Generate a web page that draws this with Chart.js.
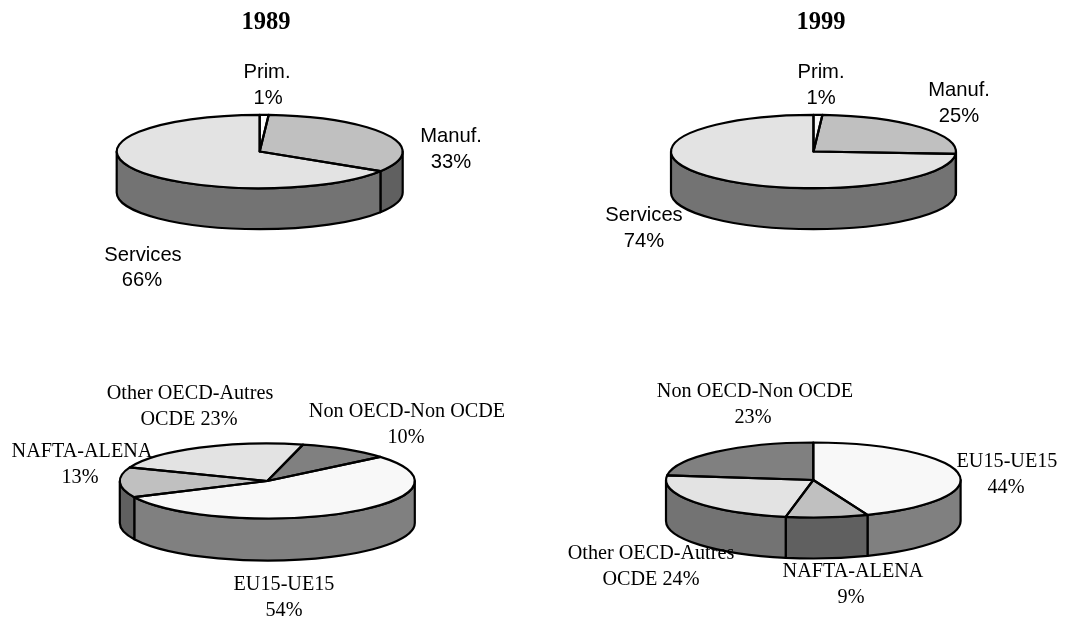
<!DOCTYPE html>
<html><head><meta charset="utf-8">
<script src="https://cdn.jsdelivr.net/npm/chart.js@4/dist/chart.umd.min.js"></script>
<style>html,body{margin:0;padding:0;background:#fff;overflow:hidden}
#wrap{position:relative;width:1065px;height:619px}
canvas{position:absolute;left:0;top:0}</style></head>
<body><div id="wrap"></div>
<script>
const sectorCategories = ["Prim.", "Manuf.", "Services"];
const regionCategoriesA = ["EU15-UE15", "NAFTA-ALENA", "Other OECD-Autres OCDE", "Non OECD-Non OCDE"];
const values1989Sector = [1, 33, 66];
const values1999Sector = [1, 25, 74];
const values1989Region = [54, 13, 23, 10];
const values1999Region = [44, 9, 24, 23];
const titles = ["1989", "1999"];

const ARIAL = '"Liberation Sans", Arial, sans-serif';
const TIMES = '"Liberation Serif", "Times New Roman", serif';

const pies = [
  {labels: sectorCategories, values: values1989Sector, rotation: 0, cx: 259.7, cy: 151.5, rx: 143, ry: 36.7, depth: 41,
   top: ['#ffffff', '#c0c0c0', '#e3e3e3'], side: ['#808080', '#606060', '#737373'], font: ARIAL,
   text: [['Prim.', 267, 78], ['1%', 268, 104], ['Manuf.', 451, 142], ['33%', 451, 168], ['Services', 143, 261], ['66%', 142, 286]],
   title: [titles[0], 266, 29]},
  {labels: sectorCategories, values: values1999Sector, rotation: 0, cx: 813.5, cy: 151.5, rx: 142.5, ry: 36.7, depth: 41,
   top: ['#f8f8f8', '#c0c0c0', '#e3e3e3'], side: ['#808080', '#606060', '#737373'], font: ARIAL,
   text: [['Prim.', 821, 78], ['1%', 821, 104], ['Manuf.', 959, 96], ['25%', 959, 122], ['Services', 644, 221], ['74%', 644, 247]],
   title: [titles[1], 821, 29]},
  {labels: regionCategoriesA, values: values1989Region, rotation: 50, cx: 267.3, cy: 481, rx: 147.5, ry: 37.5, depth: 42,
   top: ['#f8f8f8', '#c0c0c0', '#e3e3e3', '#808080'], side: ['#808080', '#606060', '#737373', '#606060'], font: TIMES,
   text: [['Other OECD-Autres', 190, 399], ['OCDE 23%', 189, 425], ['Non OECD-Non OCDE', 407, 417], ['10%', 406, 443],
          ['NAFTA-ALENA', 82, 457], ['13%', 80, 483], ['EU15-UE15', 284, 590], ['54%', 284, 616]]},
  {labels: regionCategoriesA, values: values1999Region, rotation: 0, cx: 813.3, cy: 480, rx: 147.3, ry: 37.5, depth: 41,
   top: ['#f8f8f8', '#c0c0c0', '#e3e3e3', '#808080'], side: ['#808080', '#606060', '#737373', '#606060'], font: TIMES,
   text: [['Non OECD-Non OCDE', 755, 397], ['23%', 753, 423], ['EU15-UE15', 1007, 467], ['44%', 1006, 493],
          ['Other OECD-Autres', 651, 559], ['OCDE 24%', 651, 585], ['NAFTA-ALENA', 853, 577], ['9%', 851, 603]]}
];

const STROKE = 2.2;
const FONT_PX = 20.2;
const TITLE_PX = 24.5;

const tilt3d = {
  id: 'tilt3d',
  beforeDatasetsDraw(chart, args, o) {
    const ctx = chart.ctx, p = o.pie, arcs = chart.getDatasetMeta(0).data;
    ctx.save();
    ctx.lineWidth = STROKE; ctx.strokeStyle = '#000'; ctx.lineJoin = 'round';
    arcs.forEach((a, i) => {
      const {startAngle, endAngle} = a.getProps(['startAngle', 'endAngle'], true);
      [-2 * Math.PI, 0, 2 * Math.PI].forEach(shift => {
        const s = Math.max(startAngle + shift, 0), e = Math.min(endAngle + shift, Math.PI);
        if (e <= s) return;
        ctx.beginPath();
        ctx.ellipse(p.cx, p.cy, p.rx, p.ry, 0, s, e);
        ctx.lineTo(p.cx + p.rx * Math.cos(e), p.cy + p.ry * Math.sin(e) + p.depth);
        ctx.ellipse(p.cx, p.cy + p.depth, p.rx, p.ry, 0, e, s, true);
        ctx.closePath();
        ctx.fillStyle = p.side[i];
        ctx.fill(); ctx.stroke();
      });
    });
    ctx.restore();
    // the library's own arcs are flattened into the tilted top face
    const m = arcs[0];
    ctx.save();
    ctx.translate(p.cx, p.cy);
    ctx.scale(1, p.ry / p.rx);
    ctx.translate(-m.x, -m.y);
  },
  afterDatasetsDraw(chart, args, o) {
    const ctx = chart.ctx, p = o.pie, arcs = chart.getDatasetMeta(0).data;
    ctx.restore();
    ctx.save();
    ctx.lineWidth = STROKE; ctx.strokeStyle = '#000'; ctx.lineJoin = 'round';
    arcs.forEach(a => {
      const {startAngle, endAngle} = a.getProps(['startAngle', 'endAngle'], true);
      ctx.beginPath();
      ctx.moveTo(p.cx, p.cy);
      ctx.ellipse(p.cx, p.cy, p.rx, p.ry, 0, startAngle, endAngle);
      ctx.closePath();
      ctx.stroke();
    });
    ctx.restore();
  },
  afterDraw(chart, args, o) {
    const ctx = chart.ctx, p = o.pie;
    ctx.save();
    ctx.fillStyle = '#000'; ctx.textAlign = 'center'; ctx.textBaseline = 'alphabetic';
    ctx.font = FONT_PX + 'px ' + p.font;
    p.text.forEach(t => ctx.fillText(t[0], t[1], t[2]));
    if (p.title) {
      ctx.font = 'bold ' + TITLE_PX + 'px ' + TIMES;
      ctx.fillText(p.title[0], p.title[1], p.title[2]);
    }
    ctx.restore();
  }
};

const wrap = document.getElementById('wrap');
pies.forEach(p => {
  const c = document.createElement('canvas');
  c.width = 1065; c.height = 619;
  c.style.width = '1065px'; c.style.height = '619px';
  wrap.appendChild(c);
  new Chart(c, {
    type: 'pie',
    data: {labels: p.labels, datasets: [{data: p.values, backgroundColor: p.top, borderWidth: 0}]},
    options: {
      responsive: false, animation: false, rotation: p.rotation, radius: p.rx,
      layout: {padding: 0},
      plugins: {legend: {display: false}, tooltip: {enabled: false}, title: {display: false}, tilt3d: {pie: p}}
    },
    plugins: [tilt3d]
  });
});
</script></body></html>
